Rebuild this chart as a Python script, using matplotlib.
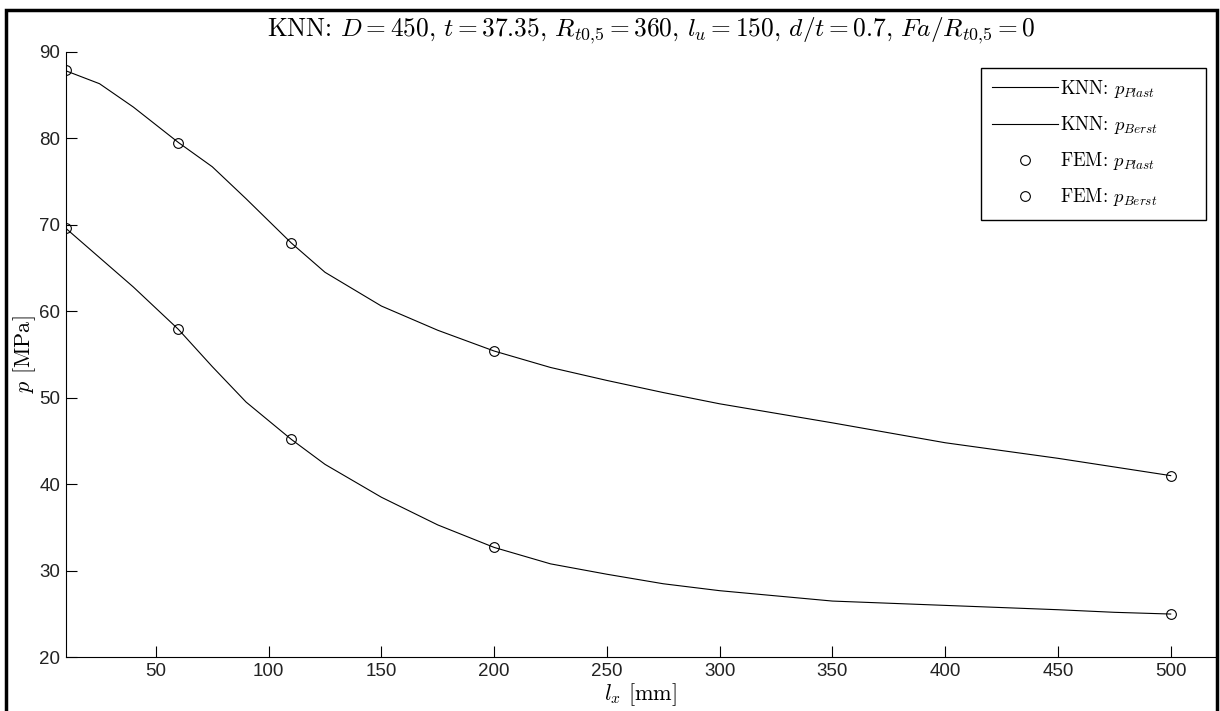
import numpy as np
import matplotlib
matplotlib.use('Agg')
from matplotlib import pyplot as plt
from matplotlib.patches import Rectangle

plt.rcParams['mathtext.fontset'] = 'cm'
plt.rcParams['font.family'] = ['Liberation Sans', 'DejaVu Sans']

# KNN predictions (lines)
knn_x = [10, 25, 40, 60, 75, 90, 110, 125, 150, 175, 200, 225, 250, 275, 300, 350, 400, 450, 475, 500]
knn_berst = [87.8, 86.3, 83.6, 79.5, 76.7, 73.0, 67.9, 64.5, 60.6, 57.8, 55.4, 53.5, 52.0, 50.6,
             49.3, 47.1, 44.8, 43.0, 42.0, 41.0]
knn_plast = [69.6, 66.2, 62.8, 57.9, 53.6, 49.5, 45.2, 42.3, 38.5, 35.3, 32.7, 30.8, 29.6, 28.5,
             27.7, 26.5, 26.0, 25.5, 25.2, 25.0]

# FEM results (circles)
fem_x = [10, 60, 110, 200, 500]
fem_plast = [69.6, 57.9, 45.2, 32.7, 25.0]
fem_berst = [87.9, 79.5, 67.9, 55.4, 41.0]

x_ticks = [50, 100, 150, 200, 250, 300, 350, 400, 450, 500]
y_ticks = [20, 30, 40, 50, 60, 70, 80, 90]

W, H = 1220, 711
fig = plt.figure(figsize=(W / 100, H / 100), dpi=100)
ax = fig.add_axes([65.7 / W, 1 - 657.3 / H, (1215.8 - 65.7) / W, (657.3 - 51.7) / H])

ax.plot(knn_x, knn_plast, color='k', lw=0.8, label=r'KNN: $p_{Plast}$')
ax.plot(knn_x, knn_berst, color='k', lw=0.8, label=r'KNN: $p_{Berst}$')
ax.plot(fem_x, fem_plast, 'o', color='k', mfc='none', ms=7, mew=0.8, label=r'FEM: $p_{Plast}$')
ax.plot(fem_x, fem_berst, 'o', color='k', mfc='none', ms=7, mew=0.8, label=r'FEM: $p_{Berst}$')

ax.set_xlim(10, 520)
ax.set_ylim(20, 90)
ax.set_xticks(x_ticks)
ax.set_yticks(y_ticks)
ax.tick_params(direction='in', length=8, width=0.8, labelsize=13.5, pad=4, labelcolor='#222222')
for side in ['top', 'right']:
    ax.spines[side].set_visible(False)
for side in ['left', 'bottom']:
    ax.spines[side].set_linewidth(0.8)

ax.set_xlabel(r'$l_x$ [mm]', family='cmr10', fontsize=16)
ax.xaxis.set_label_coords(0.5, -(695 - 657.3) / (657.3 - 51.7))
ax.xaxis.label.set_va('center')
ax.set_ylabel(r'$p$ [MPa]', family='cmr10', fontsize=16)
ax.yaxis.set_label_coords(-(65.7 - 25) / (1215.8 - 65.7), 0.5)
ax.yaxis.label.set_va('center')

fig.text(651 / W, 1 - 31 / H, r'KNN: $D=450$, $t=37.35$, $R_{t0{,}5}=360$, $l_u=150$, '
         r'$d/t=0.7$, $Fa/R_{t0{,}5}=0$', family='cmr10', fontsize=18.3, ha='center', va='center')

# legend with a hand-placed frame
leg = ax.legend(loc='upper left', bbox_to_anchor=(992 / W, 1 - 78 / H),
                bbox_transform=fig.transFigure, prop={'family': 'cmr10', 'size': 13.5},
                handlelength=3.5, handletextpad=0.1, labelspacing=0.75, borderpad=0,
                borderaxespad=0, frameon=False)
leg.set_zorder(6)
ax.add_patch(Rectangle((980.7 / W, 1 - 220 / H), (1206 - 980.7) / W, (220 - 68.3) / H,
                       transform=fig.transFigure, clip_on=False, fc='white', lw=1, ec='k',
                       zorder=5))

# thick outer frame
fig.patches.append(Rectangle((6 / W, -0.01), (1217 - 6) / W, 1 - 9.5 / H + 0.01,
                             transform=fig.transFigure, fill=False, lw=2.5, ec='k'))

fig.savefig('out.png', dpi=100)
